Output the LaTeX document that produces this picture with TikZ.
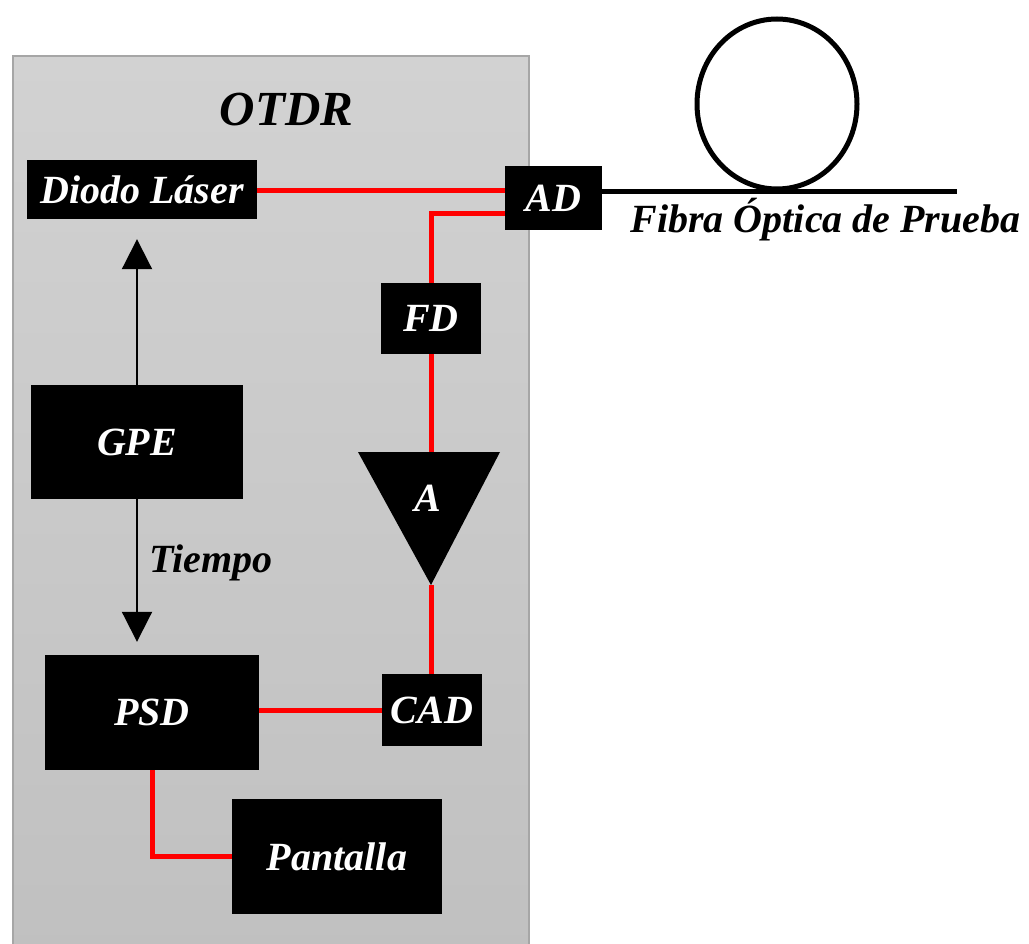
\documentclass[tikz,border=0pt]{standalone}
\usepackage{fontspec}
\setmainfont{Liberation Serif}
\usetikzlibrary{arrows.meta,calc}

\definecolor{casetop}{HTML}{D2D2D2}
\definecolor{casebot}{HTML}{C0C0C0}
\definecolor{caseedge}{HTML}{A6A6A6}
\definecolor{fibred}{HTML}{FF0000}

\tikzset{
  lbl/.style={font=\fontsize{40}{48}\selectfont\bfseries\itshape},
  title/.style={font=\fontsize{49}{58}\selectfont\bfseries\itshape},
  blk/.style={lbl, fill=black, text=white, inner sep=0pt, anchor=center},
  redline/.style={draw=fibred, line width=5pt},
  fibre/.style={draw=black, line width=5pt},
  sig/.style={draw=black, line width=2pt,
    -{Triangle[width=30pt,length=30pt]}},
}

\begin{document}
\begin{tikzpicture}[x=1pt,y=-1pt]
\useasboundingbox (0,0) rectangle (1029,944);

% instrument housing
\shade[top color=casetop, bottom color=casebot, draw=caseedge, line width=2pt]
  (13,56) rectangle (529,960);
\node[title, anchor=base] (otdr) at (286.5,126) {OTDR};

% functional blocks
\node[blk, minimum width=230pt, minimum height=59pt] (laser) at (142,189.5) {Diodo Láser};
\node[blk, minimum width=97pt,  minimum height=64pt] (ad)    at (553.5,198) {AD};
\node[blk, minimum width=100pt, minimum height=71pt] (fd)    at (431,318.5) {FD};
\node[blk, minimum width=212pt, minimum height=114pt] (gpe)  at (137,442) {GPE};
\node[blk, minimum width=214pt, minimum height=115pt] (psd)  at (152,712.5) {PSD};
\node[blk, minimum width=100pt, minimum height=72pt] (cad)   at (432,710) {CAD};
\node[blk, minimum width=210pt, minimum height=115pt] (pant) at (337,856.5) {Pantalla};

% amplifier (downward triangle)
\coordinate (ampL)   at (358,452);
\coordinate (ampR)   at (500,452);
\coordinate (ampTop) at (fd.south |- ampL);
\coordinate (ampTip) at ($(fd.south |- ampL)+(0,133)$);
\fill[black] (ampL) -- (ampR) -- (ampTip) -- cycle;
\node[lbl, text=white, anchor=base] (amp) at (428,511) {A};

% coupler ports
\coordinate (adin)  at ($(ad.west)+(0,-7)$);
\coordinate (adout) at ($(ad.west)+(0,16)$);

% optical / electrical paths
\draw[redline] (adin) -- (adin -| laser.east);
\draw[redline] (adout) -| (fd.north);
\draw[redline] (fd.south) -- (ampTop);
\draw[redline] (ampTip) -- (ampTip |- cad.north);
\draw[redline] (cad.west) -- (cad.west -| psd.east);
\draw[redline] (psd.south) |- (pant.west);

% trigger signals
\draw[sig, shorten >=20pt] (gpe.north) -- (gpe.north |- laser.south);
\draw[sig, shorten >=13pt] (gpe.south) -- (gpe.south |- psd.north);
\node[lbl, anchor=base west] (tiempo) at (146,572) {Tiempo};

% fibre under test
\coordinate (fibend) at (957,192);
\draw[fibre] (ad.east |- fibend) -- (fibend);
\draw[fibre] (777,104) ellipse [x radius=80, y radius=85];
\node[lbl, anchor=base west] (fibra) at (627,233) {Fibra Óptica de Prueba};
\end{tikzpicture}
\end{document}
